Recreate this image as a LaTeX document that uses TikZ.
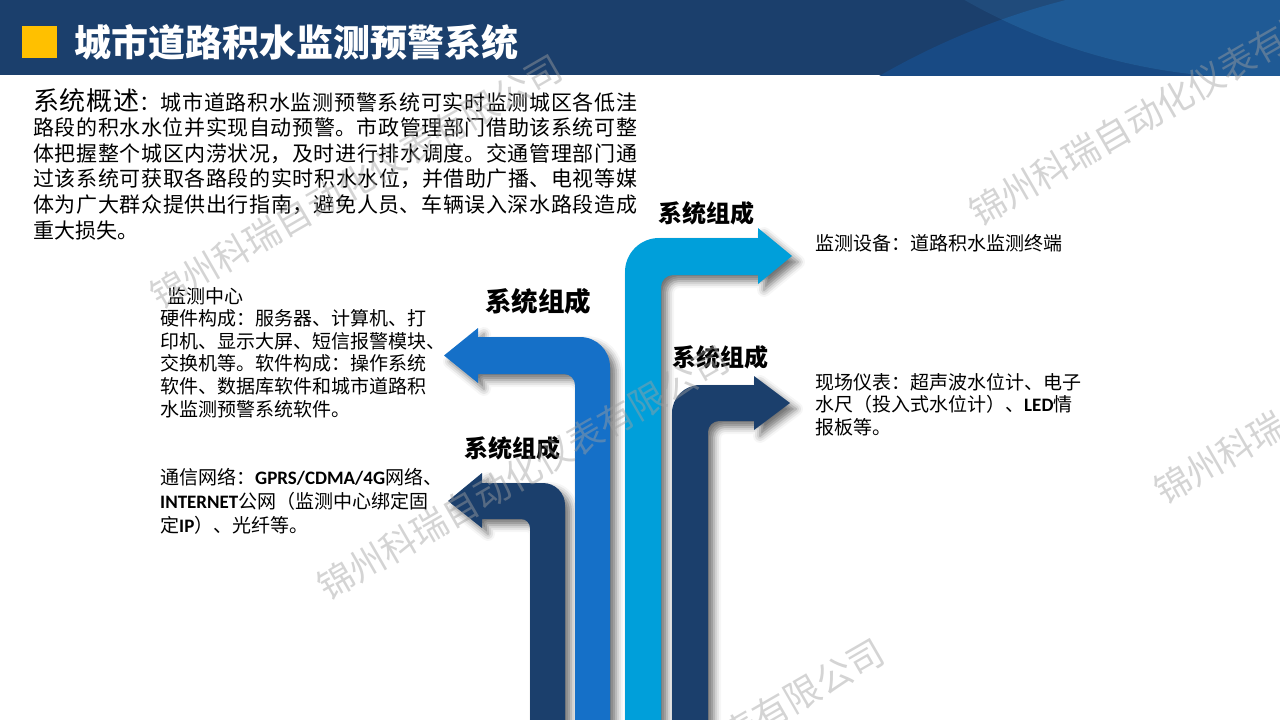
\documentclass[tikz,border=0pt]{standalone}
\usepackage{fontspec}
\setmainfont{Noto Sans CJK SC}
\newfontfamily\latinfont{Carlito}
\usetikzlibrary{shadows.blur}
\XeTeXlinebreaklocale "zh"
\XeTeXlinebreakskip=0pt plus 1pt minus 0.4pt

\definecolor{headnavy}{HTML}{1B3F6C}
\definecolor{headmid}{HTML}{184A84}
\definecolor{headtop}{HTML}{204B7B}
\definecolor{headlight}{HTML}{1F5A95}
\definecolor{titleyellow}{HTML}{FFC000}
\definecolor{arrowdark}{HTML}{1B3F6C}
\definecolor{arrowmid}{HTML}{1570C8}
\definecolor{arrowlight}{HTML}{009FDA}
\definecolor{wmgray}{HTML}{A0A0A0}

\newcommand{\lat}[1]{{\latinfont\bfseries #1}}

\tikzset{
  arrowbody/.style={blur shadow={shadow xshift=6pt, shadow yshift=-6pt,
      shadow blur radius=7pt, shadow opacity=55}},
  blocktext/.style={anchor=north west, align=left, inner sep=0pt,
      font=\fontsize{19}{22.6}\selectfont},
  partlabel/.style={inner sep=0pt, font=\bfseries\fontsize{24}{24}\selectfont},
  watermark/.style={inner sep=0pt, rotate=30, text=wmgray, text opacity=0.45,
      font=\fontsize{36}{36}\selectfont},
}

\begin{document}
\begin{tikzpicture}[x=1pt,y=-1pt]
\useasboundingbox (0,0) rectangle (1280,720);

% header band
\fill[headnavy] (0,0) rectangle (1280,75);
\begin{scope}
  \clip (0,0) rectangle (1280,75);
  \fill[headmid] (1250,720) circle[radius=743];
  \fill[headtop] (1260,-520) circle[radius=598];
  \clip (1250,720) circle[radius=743];
  \fill[headlight] (1260,-520) circle[radius=598];
\end{scope}
\fill[titleyellow] (22,26) rectangle (57,58);
\node (title) [anchor=west, inner sep=0pt, text=white,
  font=\bfseries\fontsize{37}{37}\selectfont] at (74,42) {城市道路积水监测预警系统};

% overview
\node (overview) [anchor=north west, inner sep=0pt, text width=604pt, align=justify,
  font=\fontsize{21}{25.6}\selectfont] at (33,88) {{\fontsize{26}{25.6}\selectfont 系统概述}：城市道路积水监测预警系统可实时监测城区各低洼\linebreak 路段的积水水位并实现自动预警。市政管理部门借助该系统可整\linebreak 体把握整个城区内涝状况，及时进行排水调度。交通管理部门通\linebreak 过该系统可获取各路段的实时积水水位，并借助广播、电视等媒\linebreak 体为广大群众提供出行指南，避免人员、车辆误入深水路段造成\linebreak 重大损失。};

% arrows
\fill[arrowdark, arrowbody] (530,730) -- (530,528) .. controls (530,523) and (526,519) .. (521,519)
  -- (482,519) -- (482,528) -- (448,501) -- (482,473) -- (482,483)
  -- (543,483) .. controls (555.1,483) and (565,492.9) .. (565,505) -- (565,730) -- cycle;
\fill[arrowmid, arrowbody] (575,730) -- (575,385) .. controls (575,378.9) and (570.1,374) .. (564,374)
  -- (478,374) -- (478,383) -- (444,355.5) -- (478,328) -- (478,337)
  -- (580,337) .. controls (596.6,337) and (610,350.4) .. (610,367) -- (610,730) -- cycle;
\fill[arrowlight, arrowbody] (625,730) -- (625,272) .. controls (625,253.2) and (640.2,238) .. (659,238)
  -- (758,238) -- (758,228) -- (792,256) -- (758,284) -- (758,275)
  -- (673,275) .. controls (666.4,275) and (661,280.4) .. (661,287) -- (661,730) -- cycle;
\fill[arrowdark, arrowbody] (672,730) -- (672,413) .. controls (672,397.5) and (684.5,385) .. (700,385)
  -- (754,385) -- (754,376) -- (790,403) -- (754,430) -- (754,421)
  -- (719,421) .. controls (712.9,421) and (708,425.9) .. (708,432) -- (708,730) -- cycle;

% arrow labels
\node (lbltop) [partlabel] at (706,213) {系统组成};
\node (lblcenter) [partlabel, font=\bfseries\fontsize{26.5}{26.5}\selectfont] at (538,301) {系统组成};
\node (lbldevice) [partlabel] at (720,357) {系统组成};
\node (lblnet) [partlabel] at (512,448) {系统组成};

% text blocks
\node (center) [blocktext] at (160,287) {\hspace{7pt}监测中心\\硬件构成：服务器、计算机、打\\印机、显示大屏、短信报警模块、\\交换机等。软件构成：操作系统\\软件、数据库软件和城市道路积\\水监测预警系统软件。};
\node (network) [blocktext, font=\fontsize{19}{24}\selectfont] at (160,468) {通信网络：\lat{GPRS/CDMA/4G}网络、\\\lat{INTERNET}公网（监测中心绑定固\\定\lat{IP}）、光纤等。};
\node (device) [blocktext] at (815,234) {监测设备：道路积水监测终端};
\node (meter) [blocktext] at (815,373) {现场仪表：超声波水位计、电子\\水尺（投入式水位计）、\lat{LED}情\\报板等。};

% watermarks
\node (wm1) [watermark] at (356,182) {锦州科瑞自动化仪表有限公司};
\node (wm2) [watermark] at (523,473) {锦州科瑞自动化仪表有限公司};
\node (wm3) [watermark] at (1175,99) {锦州科瑞自动化仪表有限公司};
\node (wm4) [watermark] at (1360,377) {锦州科瑞自动化仪表有限公司};
\node (wm5) [watermark] at (678,766) {锦州科瑞自动化仪表有限公司};
\end{tikzpicture}
\end{document}
